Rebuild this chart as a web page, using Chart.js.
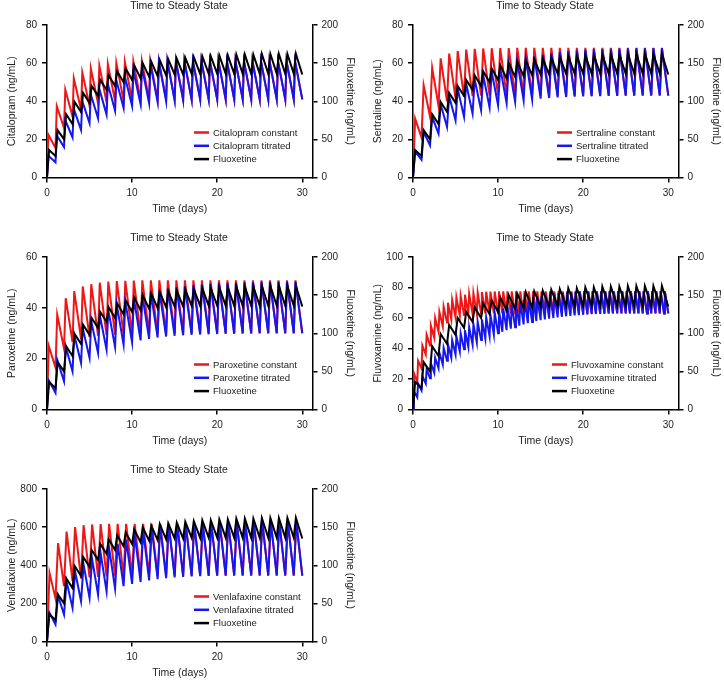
<!DOCTYPE html>
<html>
<head>
<meta charset="utf-8">
<script src="https://cdn.jsdelivr.net/npm/chart.js@4.4.1/dist/chart.umd.min.js"></script>
<style>
  html, body { margin: 0; padding: 0; background: #fff; }
  #wrap { position: relative; width: 724px; height: 680px; overflow: hidden; }
  #wrap canvas { position: absolute; }
</style>
</head>
<body>
<div id="wrap">
  <canvas id="p1" width="358" height="216" style="left:0;top:0"></canvas>
  <canvas id="p2" width="358" height="216" style="left:366px;top:0"></canvas>
  <canvas id="p3" width="358" height="216" style="left:0;top:232px"></canvas>
  <canvas id="p4" width="358" height="216" style="left:366px;top:232px"></canvas>
  <canvas id="p5" width="358" height="216" style="left:0;top:464px"></canvas>
</div>
<script>
// Values. Troughs are pre-dose levels (first = 0 at t=0,
// last = level at day 30), peaks are the level shortly after each dose.

// Fluoxetine (right axis, ng/mL) - same simulation in every panel, dosed daily
var fluoxetineTmax = 0.25;
var fluoxetinePeaks = [36, 62, 83, 99, 111, 120, 128, 134, 139, 143, 147, 150, 152, 154, 155,
  156, 157, 158, 159, 159, 160, 160, 161, 161, 161, 162, 162, 162, 162, 162];
var fluoxetineTroughs = [0, 28, 50, 70, 86, 98, 107, 115, 120, 125, 128, 130, 132, 133, 134, 135,
  135, 136, 136, 136, 136, 136, 136, 136, 136, 136, 136, 136, 136, 136, 135];

// Citalopram, daily
var citalopramTmax = 0.15;
var citalopramConstantPeaks = [22.5, 37.4, 46, 52, 55, 57.2, 58.6, 59.5, 60.1, 60.5, 60.8, 61, 61, 61, 61,
  61, 61, 61, 61, 61, 61, 61, 61, 61, 61, 61, 61, 61, 61, 61];
var citalopramConstantTroughs = [0, 15.5, 26, 32, 35.5, 37.5, 38.8, 39.5, 40, 40.3, 40.5, 40.7, 40.8, 40.9, 41, 41,
  41, 41, 41, 41, 41, 41, 41, 41, 41, 41, 41, 41, 41, 41, 41];
var citalopramTitratedPeaks = [11.5, 22, 30, 36, 40, 43.5, 46.5, 49, 51, 53, 56, 58, 59.5, 60.5, 61,
  61, 61, 61, 61, 61, 61, 61, 61, 61, 61, 61, 61, 61, 61, 61];
var citalopramTitratedTroughs = [0, 8, 16, 21, 25, 28.5, 31, 33, 35, 36.5, 37.5, 38.5, 39, 39.5, 40, 40.3,
  40.5, 40.7, 40.9, 41, 41, 41, 41, 41, 41, 41, 41, 41, 41, 41, 41];

// Sertraline, daily
var sertralineTmax = 0.25;
var sertralineConstantPeaks = [30.9, 48.4, 57.5, 62.5, 65, 66.4, 67.1, 67.5, 67.7, 67.8, 67.9, 67.9, 68, 68, 68,
  68, 68, 68, 68, 68, 68, 68, 68, 68, 68, 68, 68, 68, 68, 68];
var sertralineConstantTroughs = [0, 21, 32, 37.5, 40, 41.5, 42.3, 42.7, 42.9, 43, 43, 43, 43, 43, 43, 43,
  43, 43, 43, 43, 43, 43, 43, 43, 43, 43, 43, 43, 43, 43, 43];
var sertralineTitratedPeaks = [13.7, 23.9, 31.8, 38.4, 42.6, 46.5, 49.3, 51.5, 53.7, 55.5, 57.5, 59.5, 61, 62.5, 63.5,
  64.5, 65.2, 65.8, 66.3, 66.7, 67, 67.2, 67.4, 67.5, 67.6, 67.7, 67.8, 67.8, 67.9, 67.9];
var sertralineTitratedTroughs = [0, 9.3, 16.8, 23, 26.5, 30, 31.8, 33.5, 35.3, 36.7, 37.9, 39, 39.8, 40.5, 41, 41.4,
  41.7, 42, 42.2, 42.4, 42.5, 42.6, 42.7, 42.8, 42.8, 42.9, 42.9, 43, 43, 43, 43];

// Paroxetine, daily
var paroxetineTmax = 0.2;
var paroxetineConstantPeaks = [25.1, 37.3, 43.8, 46.6, 48.4, 49.3, 49.9, 50.3, 50.5, 50.6, 50.7, 50.8, 50.8, 50.8, 50.8,
  50.8, 50.8, 50.8, 50.8, 50.8, 50.8, 50.8, 50.8, 50.8, 50.8, 50.8, 50.8, 50.8, 50.8, 50.8];
var paroxetineConstantTroughs = [0, 16.5, 24, 26.5, 27.8, 28.5, 29, 29.3, 29.5, 29.6, 29.7, 29.8, 29.8, 29.9, 29.9, 30,
  30, 30, 30, 30, 30, 30, 30, 30, 30, 30, 30, 30, 30, 30, 30];
var paroxetineTitratedPeaks = [11.5, 19.6, 24.8, 29.4, 32, 34.6, 37.3, 39.2, 41.2, 42.5, 43.8, 45, 46, 46.8, 47.5,
  48, 48.5, 48.9, 49.2, 49.5, 49.7, 49.8, 49.9, 50, 50.1, 50.2, 50.2, 50.3, 50.3, 50.3];
var paroxetineTitratedTroughs = [0, 6.5, 11.1, 15, 18.3, 20.3, 22.2, 23.5, 24.6, 25.5, 26.4, 27.2, 27.8, 28.3, 28.7, 29,
  29.2, 29.4, 29.5, 29.6, 29.7, 29.8, 29.8, 29.9, 29.9, 30, 30, 30, 30, 30, 30];

// Fluvoxamine, twice daily
var fluvoxamineTmax = 0.1;
var fluvoxamineConstantPeaks = [24, 32, 42, 49, 55, 60, 64, 67.5, 70, 72,
  73.5, 74.5, 75.3, 75.9, 76.3, 76.7, 77, 77.2, 77.3, 77.4,
  77.5, 77.5, 77.5, 77.5, 77.5, 77.5, 77.5, 77.5, 77.5, 77.5,
  77.5, 77.5, 77.5, 77.5, 77.5, 77.5, 77.5, 77.5, 77.5, 77.5,
  77.5, 77.5, 77.5, 77.5, 77.5, 77.5, 77.5, 77.5, 77.5, 77.5,
  77.5, 77.5, 77.5, 77.5, 77.5, 77.5, 77.5, 77.5, 77.5, 77.5];
var fluvoxamineConstantTroughs = [0, 18, 27, 36, 42, 47, 51, 54.5, 57, 59,
  60.5, 61.4, 62, 62.4, 62.7, 62.9, 63, 63, 63, 63,
  63, 63, 63, 63, 63, 63, 63, 63, 63, 63,
  63, 63, 63, 63, 63, 63, 63, 63, 63, 63,
  63, 63, 63, 63, 63, 63, 63, 63, 63, 63,
  63, 63, 63, 63, 63, 63, 63, 63, 63, 63, 63];
var fluvoxamineTitratedPeaks = [12, 17, 22, 26.5, 30.5, 34, 37.5, 40.5, 43, 45.5,
  48, 50, 52, 54, 56, 57.5, 59, 60.5, 62, 63.5,
  65, 66.3, 67.5, 68.7, 69.8, 70.8, 71.7, 72.5, 73.2, 73.9,
  74.5, 75, 75.5, 75.9, 76.3, 76.6, 76.9, 77.1, 77.3, 77.4,
  77.5, 77.5, 77.5, 77.5, 77.5, 77.5, 77.5, 77.5, 77.5, 77.5,
  77.5, 77.5, 77.5, 77.5, 77.5, 77.5, 77.5, 77.5, 77.5, 77.5];
var fluvoxamineTitratedTroughs = [0, 8, 12.5, 17, 20.5, 24, 27, 29.5, 32, 34,
  36, 38, 39.5, 41, 42.5, 44, 45.5, 46.5, 48, 49,
  50, 51, 52, 53, 54, 55, 55.8, 56.6, 57.3, 58,
  58.6, 59.1, 59.6, 60, 60.4, 60.8, 61.1, 61.4, 61.7, 61.9,
  62.1, 62.3, 62.5, 62.6, 62.7, 62.8, 62.9, 63, 63, 63,
  63, 63, 63, 63, 63, 63, 63, 63, 63, 63, 63];

// Venlafaxine, daily
var venlafaxineTmax = 0.3;
var venlafaxineConstantPeaks = [359, 516, 577, 600, 610, 614, 616, 617, 617, 617, 617, 617, 617, 617, 617,
  617, 617, 617, 617, 619, 621, 623, 624, 625, 626, 627, 627, 628, 628, 628];
var venlafaxineConstantTroughs = [0, 225, 290, 318, 330, 336, 339, 341, 342, 343, 344, 344, 345, 345, 345, 345,
  345, 345, 345, 345, 345, 345, 346, 346, 346, 346, 346, 346, 346, 346, 346];
var venlafaxineTitratedPeaks = [150, 240, 315, 368, 403, 434, 464, 490, 512, 535, 565, 583, 597, 607, 613,
  617, 617, 617, 617, 619, 621, 623, 624, 625, 626, 627, 627, 628, 628, 628];
var venlafaxineTitratedTroughs = [0, 89, 141, 176, 211, 228, 246, 263, 277, 290, 302, 312, 320, 327, 332, 336,
  339, 341, 343, 344, 345, 345, 346, 346, 346, 346, 346, 346, 346, 346, 346];

var xTicks = [0, 10, 20, 30];
var rightTicks = [0, 50, 100, 150, 200];

var RED = 'rgb(238, 22, 22)';
var BLUE = 'rgb(22, 22, 238)';
var BLACK = '#000';
var TEXT = '#222';
var FONT = "'Liberation Sans', Arial, Helvetica, sans-serif";

/** Turn trough/peak lists into line points: trough at dose time, peak tmax later */
function doseSeries(troughs, peaks, interval, tmax) {
  var pts = [];
  for (var i = 0; i < peaks.length; i++) {
    pts.push({ x: i * interval, y: troughs[i] });
    pts.push({ x: i * interval + tmax, y: peaks[i] });
  }
  pts.push({ x: peaks.length * interval, y: troughs[peaks.length] });
  return pts;
}

/** Legend drawn inside the plot, lower right */
var insideLegend = {
  id: 'insideLegend',
  afterDraw: function (chart, args, opts) {
    var ctx = chart.ctx;
    var area = chart.chartArea;
    var x0 = area.left + opts.x;
    ctx.save();
    ctx.font = '9.5px ' + FONT;
    ctx.textBaseline = 'middle';
    chart.data.datasets.forEach(function (ds, i) {
      var y = area.bottom - 45 + i * 13.3;
      ctx.strokeStyle = ds.borderColor;
      ctx.lineWidth = 2.5;
      ctx.beginPath();
      ctx.moveTo(x0, y);
      ctx.lineTo(x0 + 15, y);
      ctx.stroke();
      ctx.fillStyle = TEXT;
      ctx.fillText(ds.label, x0 + 19, y + 0.5);
    });
    ctx.restore();
  }
};

function axisStyle() {
  return {
    border: { display: true, color: '#000', width: 1.5 },
    grid: { display: true, drawOnChartArea: false, drawTicks: true, tickLength: 5, color: '#000', lineWidth: 1.5 }
  };
}

function makePanel(id, p) {
  var left = axisStyle(), right = axisStyle(), bottom = axisStyle();

  new Chart(document.getElementById(id), {
    type: 'line',
    data: {
      datasets: [{
        label: p.drug + ' constant',
        data: doseSeries(p.constantTroughs, p.constantPeaks, p.interval, p.tmax),
        borderColor: RED, yAxisID: 'y', order: 3
      }, {
        label: p.drug + ' titrated',
        data: doseSeries(p.titratedTroughs, p.titratedPeaks, p.interval, p.tmax),
        borderColor: BLUE, yAxisID: 'y', order: 2
      }, {
        label: 'Fluoxetine',
        data: doseSeries(fluoxetineTroughs, fluoxetinePeaks, 1, fluoxetineTmax),
        borderColor: BLACK, yAxisID: 'y1', order: 1
      }]
    },
    options: {
      responsive: false,
      animation: false,
      layout: { padding: 0 },
      elements: {
        point: { radius: 0 },
        line: { borderWidth: 2, tension: 0, borderJoinStyle: 'miter' }
      },
      plugins: {
        legend: { display: false },
        tooltip: { enabled: false },
        title: {
          display: true,
          text: 'Time to Steady State',
          color: TEXT,
          font: { family: FONT, size: 10.5, weight: 'normal' },
          padding: { top: 0, bottom: 12.4 }
        },
        insideLegend: { x: p.legendX }
      },
      scales: {
        x: Object.assign(bottom, {
          type: 'linear', min: 0, max: 31.2,
          ticks: { stepSize: 10, includeBounds: false, color: TEXT, padding: 5, maxRotation: 0,
            font: { family: FONT, size: 10 } },
          afterBuildTicks: function (s) { s.ticks = xTicks.map(function (v) { return { value: v }; }); },
          title: { display: true, text: 'Time (days)', color: TEXT,
            font: { family: FONT, size: 10.5 }, padding: { top: 0, bottom: 0.7 } },
          afterFit: function (s) { s.height = 38.5; }
        }),
        y: Object.assign(left, {
          position: 'left', min: 0, max: p.yMax,
          ticks: { stepSize: p.yStep, color: TEXT, padding: 5, font: { family: FONT, size: 10 } },
          title: { display: true, text: p.drug + ' (ng/mL)', color: TEXT,
            font: { family: FONT, size: 10.5 }, padding: { top: 5.4, bottom: 0 } },
          afterFit: function (s) { s.width = 47; }
        }),
        y1: Object.assign(right, {
          position: 'right', min: 0, max: 200,
          ticks: { stepSize: 50, color: TEXT, padding: 4, font: { family: FONT, size: 10 } },
          afterBuildTicks: function (s) { s.ticks = rightTicks.map(function (v) { return { value: v }; }); },
          title: { display: true, text: 'Fluoxetine (ng/mL)', color: TEXT,
            font: { family: FONT, size: 10.5 }, padding: { top: 1.7, bottom: 0 } },
          afterFit: function (s) { s.width = 45.5; }
        })
      }
    },
    plugins: [insideLegend]
  });
}

makePanel('p1', {
  drug: 'Citalopram', yMax: 80, yStep: 20, interval: 1, tmax: citalopramTmax, legendX: 147,
  constantPeaks: citalopramConstantPeaks, constantTroughs: citalopramConstantTroughs,
  titratedPeaks: citalopramTitratedPeaks, titratedTroughs: citalopramTitratedTroughs
});
makePanel('p2', {
  drug: 'Sertraline', yMax: 80, yStep: 20, interval: 1, tmax: sertralineTmax, legendX: 144,
  constantPeaks: sertralineConstantPeaks, constantTroughs: sertralineConstantTroughs,
  titratedPeaks: sertralineTitratedPeaks, titratedTroughs: sertralineTitratedTroughs
});
makePanel('p3', {
  drug: 'Paroxetine', yMax: 60, yStep: 20, interval: 1, tmax: paroxetineTmax, legendX: 147,
  constantPeaks: paroxetineConstantPeaks, constantTroughs: paroxetineConstantTroughs,
  titratedPeaks: paroxetineTitratedPeaks, titratedTroughs: paroxetineTitratedTroughs
});
makePanel('p4', {
  drug: 'Fluvoxamine', yMax: 100, yStep: 20, interval: 0.5, tmax: fluvoxamineTmax, legendX: 139,
  constantPeaks: fluvoxamineConstantPeaks, constantTroughs: fluvoxamineConstantTroughs,
  titratedPeaks: fluvoxamineTitratedPeaks, titratedTroughs: fluvoxamineTitratedTroughs
});
makePanel('p5', {
  drug: 'Venlafaxine', yMax: 800, yStep: 200, interval: 1, tmax: venlafaxineTmax, legendX: 147,
  constantPeaks: venlafaxineConstantPeaks, constantTroughs: venlafaxineConstantTroughs,
  titratedPeaks: venlafaxineTitratedPeaks, titratedTroughs: venlafaxineTitratedTroughs
});
</script>
</body>
</html>
